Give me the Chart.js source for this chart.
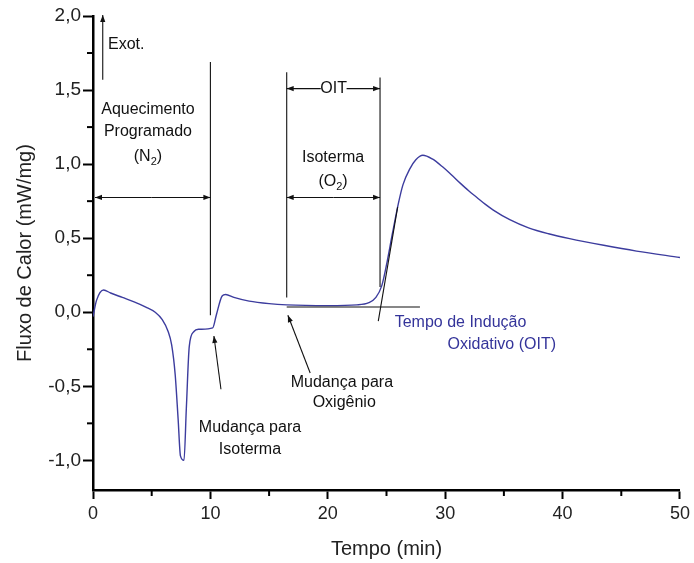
<!DOCTYPE html>
<html>
<head>
<meta charset="utf-8">
<script src="https://cdn.jsdelivr.net/npm/chart.js@4.4.1/dist/chart.umd.min.js"></script>
<style>
  html, body { margin: 0; padding: 0; background: #fff; }
  #wrap { width: 694px; height: 563px; }
</style>
</head>
<body>
<div id="wrap"><canvas id="dscChart"></canvas></div>
<script>
// DSC curve (tempo em min, fluxo em mW/mg)
const tempo = [0, 0.3, 0.9, 1.5, 2.5, 3.5, 4.5, 5.3, 5.9, 6.4, 6.7, 7.0, 7.25, 7.45, 7.75, 7.95, 8.2, 8.6, 9.0, 10.2, 10.5, 11.0, 11.3, 12.0, 13.3, 15.0, 16.5, 20.0, 22.5, 23.5, 24.1, 24.6, 25.0, 25.5, 26.0, 26.4, 27.0, 27.5, 28.1, 28.9, 29.8, 30.5, 31.3, 32.0, 32.7, 33.4, 34.1, 35.5, 37.1, 38.8, 40.6, 43.5, 46.3, 50.0];
const fluxo = [-0.03, 0.08, 0.15, 0.13, 0.10, 0.07, 0.035, 0.0, -0.05, -0.13, -0.22, -0.42, -0.72, -0.97, -1.0, -0.65, -0.23, -0.13, -0.115, -0.105, -0.02, 0.11, 0.12, 0.10, 0.075, 0.058, 0.05, 0.045, 0.05, 0.065, 0.10, 0.18, 0.32, 0.53, 0.73, 0.86, 0.97, 1.03, 1.06, 1.035, 0.98, 0.93, 0.87, 0.82, 0.775, 0.73, 0.69, 0.625, 0.57, 0.53, 0.497, 0.452, 0.413, 0.37];

// axis ticks
const xTicks = [0, 10, 20, 30, 40, 50];
const xMinor = [5, 15, 25, 35, 45];
const yTicks = [-1.0, -0.5, 0.0, 0.5, 1.0, 1.5, 2.0];
const yMinor = [-0.75, -0.25, 0.25, 0.75, 1.25, 1.75];

const curveColor = '#3c3c9e';
const blueText = '#34349a';
const inkColor = '#111';
const fontFamily = "'Liberation Sans', Arial, sans-serif";

// annotation layout, in data units
const exotArrow = { x: 0.83, y0: 1.57, y1: 2.0 };
const markerLines = [
    { x: 10.0, top: 1.69, bottom: -0.02 },
    { x: 16.5, top: 1.62, bottom: 0.10 },
    { x: 24.45, top: 1.585, bottom: 0.17 }
];
const spanArrowsY = 0.775;
const oitY = 1.51;

function dataset() {
    return tempo.map((t, i) => ({ x: t, y: fluxo[i] }));
}

function fmt(v) {
    return v.toFixed(1).replace('.', ',');
}

function arrow(ctx, x1, y1, x2, y2) {
    ctx.beginPath();
    ctx.moveTo(x1, y1);
    ctx.lineTo(x2, y2);
    ctx.stroke();
    const a = Math.atan2(y2 - y1, x2 - x1);
    const len = 7, w = 2.6;
    ctx.beginPath();
    ctx.moveTo(x2, y2);
    ctx.lineTo(x2 - len * Math.cos(a) + w * Math.sin(a), y2 - len * Math.sin(a) - w * Math.cos(a));
    ctx.lineTo(x2 - len * Math.cos(a) - w * Math.sin(a), y2 - len * Math.sin(a) + w * Math.cos(a));
    ctx.closePath();
    ctx.fill();
}

// text with a subscript part, centred on cx
function subText(ctx, before, sub, after, cx, cy) {
    const big = '16px ' + fontFamily, small = '11px ' + fontFamily;
    ctx.font = big;
    const w1 = ctx.measureText(before).width;
    const w3 = ctx.measureText(after).width;
    ctx.font = small;
    const w2 = ctx.measureText(sub).width;
    let x = cx - (w1 + w2 + w3) / 2;
    ctx.textAlign = 'left';
    ctx.font = big;
    ctx.fillText(before, x, cy);
    x += w1;
    ctx.font = small;
    ctx.fillText(sub, x, cy + 5);
    x += w2;
    ctx.font = big;
    ctx.fillText(after, x, cy);
}

const annotations = {
    id: 'annotations',
    afterDatasetsDraw(chart) {
        const ctx = chart.ctx;
        const xs = chart.scales.x, ys = chart.scales.y;
        const px = v => xs.getPixelForValue(v);
        const py = v => ys.getPixelForValue(v);

        ctx.save();
        ctx.fillStyle = inkColor;
        ctx.textBaseline = 'middle';

        // minor ticks
        ctx.lineWidth = 2;
        ctx.strokeStyle = '#000';
        xMinor.forEach(v => {
            ctx.beginPath();
            ctx.moveTo(px(v), xs.top);
            ctx.lineTo(px(v), xs.top + 6);
            ctx.stroke();
        });
        yMinor.forEach(v => {
            ctx.beginPath();
            ctx.moveTo(ys.right, py(v));
            ctx.lineTo(ys.right - 6, py(v));
            ctx.stroke();
        });
        ctx.lineWidth = 1.1;
        ctx.strokeStyle = inkColor;

        // Exot. arrow
        arrow(ctx, px(exotArrow.x), py(exotArrow.y0), px(exotArrow.x), py(exotArrow.y1) - 1);
        ctx.font = '16px ' + fontFamily;
        ctx.textAlign = 'left';
        ctx.fillText('Exot.', px(1.28), py(1.81));

        // vertical marker lines
        markerLines.forEach(m => {
            ctx.beginPath();
            ctx.moveTo(px(m.x), py(m.top));
            ctx.lineTo(px(m.x), py(m.bottom));
            ctx.stroke();
        });

        // double arrows for the two stages
        const midA = (px(0) + px(10.0)) / 2;
        arrow(ctx, midA, py(spanArrowsY), px(0) + 2, py(spanArrowsY));
        arrow(ctx, midA, py(spanArrowsY), px(10.0), py(spanArrowsY));
        const midB = (px(16.5) + px(24.45)) / 2;
        arrow(ctx, midB, py(spanArrowsY), px(16.5), py(spanArrowsY));
        arrow(ctx, midB, py(spanArrowsY), px(24.45), py(spanArrowsY));

        // OIT span
        ctx.textAlign = 'center';
        ctx.fillText('OIT', px(20.5), py(oitY));
        arrow(ctx, px(19.4), py(oitY), px(16.5), py(oitY));
        arrow(ctx, px(21.6), py(oitY), px(24.45), py(oitY));

        // stage labels
        ctx.fillText('Aquecimento', px(4.68), py(1.37));
        ctx.fillText('Programado', px(4.68), py(1.22));
        subText(ctx, '(N', '2', ')', px(4.68), py(1.05));
        ctx.textAlign = 'center';
        ctx.fillText('Isoterma', px(20.45), py(1.045));
        subText(ctx, '(O', '2', ')', px(20.45), py(0.88));

        // baseline and tangent for OIT
        ctx.beginPath();
        ctx.moveTo(px(16.5), py(0.035));
        ctx.lineTo(px(27.85), py(0.035));
        ctx.stroke();
        ctx.beginPath();
        ctx.moveTo(px(24.3), py(-0.06));
        ctx.lineTo(px(25.95), py(0.71));
        ctx.stroke();

        // pointer arrows
        arrow(ctx, px(10.9), py(-0.52), px(10.3), py(-0.16));
        arrow(ctx, px(18.5), py(-0.41), px(16.6), py(-0.02));

        ctx.textAlign = 'center';
        ctx.fillText('Mudança para', px(13.37), py(-0.78));
        ctx.fillText('Isoterma', px(13.37), py(-0.93));
        ctx.fillText('Mudança para', px(21.2), py(-0.475));
        ctx.fillText('Oxigênio', px(21.4), py(-0.61));

        ctx.fillStyle = blueText;
        ctx.textAlign = 'left';
        ctx.fillText('Tempo de Indução', px(25.7), py(-0.07));
        ctx.fillText('Oxidativo (OIT)', px(30.2), py(-0.22));
        ctx.restore();
    }
};

Chart.defaults.font.family = fontFamily;
Chart.defaults.color = '#222';

new Chart(document.getElementById('dscChart'), {
    type: 'line',
    data: {
        datasets: [{
            data: dataset(),
            borderColor: curveColor,
            borderWidth: 1.4,
            pointRadius: 0,
            fill: false,
            cubicInterpolationMode: 'monotone'
        }]
    },
    options: {
        responsive: true,
        maintainAspectRatio: false,
        animation: false,
        layout: { padding: { top: 16, right: 14, left: 0, bottom: 0 } },
        plugins: { legend: { display: false }, tooltip: { enabled: false } },
        scales: {
            x: {
                type: 'linear',
                min: 0,
                max: 50,
                afterFit: s => { s.height = 73; },
                afterBuildTicks: s => { s.ticks = xTicks.map(v => ({ value: v })); },
                border: { display: true, color: '#000', width: 2.5 },
                grid: { drawOnChartArea: false, drawTicks: true, tickLength: 9, tickColor: '#000', tickWidth: 2 },
                ticks: { font: { size: 18 }, color: '#222', padding: 4, maxRotation: 0, callback: v => String(v) },
                title: { display: true, text: 'Tempo (min)', font: { size: 20 }, color: '#222', padding: { top: 0, bottom: 2 } }
            },
            y: {
                min: -1.2,
                max: 2.0,
                afterFit: s => { s.width = 93; },
                afterBuildTicks: s => { s.ticks = yTicks.map(v => ({ value: v })); },
                border: { display: true, color: '#000', width: 2.5 },
                grid: { drawOnChartArea: false, drawTicks: true, tickLength: 10, tickColor: '#000', tickWidth: 2 },
                ticks: { font: { size: 19 }, color: '#222', padding: 2, callback: v => fmt(v) },
                title: { display: true, text: 'Fluxo de Calor (mW/mg)', font: { size: 20 }, color: '#222', padding: { top: 13, bottom: 0 } }
            }
        }
    },
    plugins: [annotations]
});
</script>
</body>
</html>
